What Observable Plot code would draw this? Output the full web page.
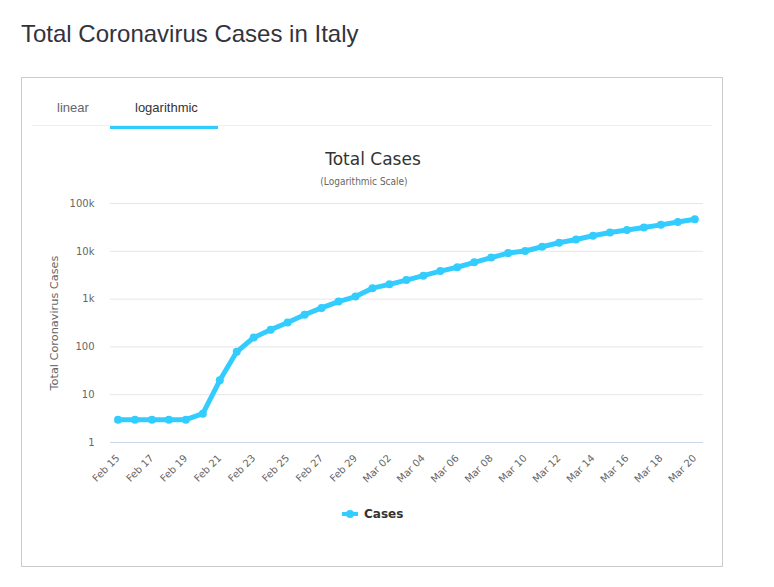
<!DOCTYPE html>
<html>
<head>
<meta charset="utf-8">
<script src="https://cdn.jsdelivr.net/npm/d3@7"></script>
<script src="https://cdn.jsdelivr.net/npm/@observablehq/plot@0.6"></script>
<style>
  html, body { margin: 0; padding: 0; background: #fff; }
  body { width: 774px; height: 587px; position: relative; overflow: hidden; }
  .abs { position: absolute; white-space: nowrap; }
  #title { left: 21px; top: 20px; font: 24px "Liberation Sans", Arial, sans-serif; color: #33333d; }
  #box { left: 21px; top: 77px; width: 700px; height: 488px; border: 1px solid #cccccc; }
  .tab { top: 100px; font: 13px "Liberation Sans", Arial, sans-serif; }
  #sep { left: 32px; top: 125px; width: 680px; height: 1px; background: #eeeeee; }
  #bar { left: 110px; top: 126px; width: 108px; height: 3px; background: #33ccff; }
  #ctitle { left: 273px; width: 200px; top: 149px; text-align: center; font: 17px "DejaVu Sans", sans-serif; color: #333333; }
  #csub { left: 264px; width: 200px; top: 176px; text-align: center; font-family: "DejaVu Sans", sans-serif; font-stretch: condensed; font-size: 10px; color: #666666; }
  #chart { left: 0; top: 190px; }
  #legend { left: 342px; top: 507px; font: bold 12px "DejaVu Sans", sans-serif; color: #333333; display: flex; align-items: center; }
  #legend svg { margin-right: 6px; }
</style>
</head>
<body>
<div class="abs" id="title">Total Coronavirus Cases in Italy</div>
<div class="abs" id="box"></div>
<div class="abs tab" style="left:57px;color:#666666">linear</div>
<div class="abs tab" style="left:135px;color:#333333">logarithmic</div>
<div class="abs" id="sep"></div>
<div class="abs" id="bar"></div>
<div class="abs" id="ctitle">Total Cases</div>
<div class="abs" id="csub">(Logarithmic Scale)</div>
<div class="abs" id="chart"></div>
<div class="abs" id="legend"><svg width="16" height="10"><line x1="0" x2="16" y1="5" y2="5" stroke="#33ccff" stroke-width="4"/><circle cx="8" cy="5" r="4" fill="#33ccff"/></svg><span>Cases</span></div>
<script>
const dates = ["2020-02-15","2020-02-16","2020-02-17","2020-02-18","2020-02-19","2020-02-20","2020-02-21","2020-02-22","2020-02-23","2020-02-24","2020-02-25","2020-02-26","2020-02-27","2020-02-28","2020-02-29","2020-03-01","2020-03-02","2020-03-03","2020-03-04","2020-03-05","2020-03-06","2020-03-07","2020-03-08","2020-03-09","2020-03-10","2020-03-11","2020-03-12","2020-03-13","2020-03-14","2020-03-15","2020-03-16","2020-03-17","2020-03-18","2020-03-19","2020-03-20"];
const cases = [3,3,3,3,3,4,20,79,157,229,323,470,655,889,1128,1694,2036,2502,3089,3858,4636,5883,7375,9172,10149,12462,15113,17660,21157,24747,27980,31506,35713,41035,47021];
const yTicks = [1,10,100,1000,10000,100000];
const yTickLabels = ["1","10","100","1k","10k","100k"];
const xTickDates = ["2020-02-15","2020-02-17","2020-02-19","2020-02-21","2020-02-23","2020-02-25","2020-02-27","2020-02-29","2020-03-02","2020-03-04","2020-03-06","2020-03-08","2020-03-10","2020-03-12","2020-03-14","2020-03-16","2020-03-18","2020-03-20"];

const data = dates.map((d, i) => ({date: new Date(d + "T00:00:00Z"), cases: cases[i]}));
const xTicks = xTickDates.map(d => new Date(d + "T00:00:00Z"));
const fmtDate = d3.utcFormat("%b %d");
const color = "#33ccff";

const chart = Plot.plot({
  width: 774,
  height: 310,
  marginLeft: 110,
  marginRight: 71,
  marginTop: 13,
  marginBottom: 58,
  style: {fontFamily: "DejaVu Sans, sans-serif", background: "transparent", overflow: "visible"},
  x: {type: "utc", domain: [data[0].date, data[data.length - 1].date], insetLeft: 7.5, insetRight: 8.7},
  y: {type: "log", domain: [1, 100000]},
  marks: [
    Plot.ruleY(yTicks.slice(1), {stroke: "#e6e6e6", strokeWidth: 1}),
    Plot.ruleY([1], {stroke: "#ccd6eb", strokeWidth: 1}),
    Plot.axisY({ticks: yTicks, tickFormat: (d) => yTickLabels[yTicks.indexOf(d)], tickSize: 0, tickPadding: 16, fontSize: 10, fill: "#666666", label: null}),
    Plot.axisX({ticks: xTicks, tickFormat: fmtDate, tickSize: 0, tickRotate: -45, tickPadding: 14, fontSize: 10, fill: "#666666", label: null}),
    Plot.text(["Total Coronavirus Cases"], {frameAnchor: "left", textAnchor: "middle", dx: -56, rotate: -90, fontSize: 11.3, fill: "#666666"}),
    Plot.line(data, {x: "date", y: "cases", stroke: color, strokeWidth: 5, strokeLinejoin: "round", strokeLinecap: "round"}),
    Plot.dot(data, {x: "date", y: "cases", r: 4, fill: color, stroke: "none"})
  ]
});
document.getElementById("chart").appendChild(chart);
</script>
</body>
</html>
